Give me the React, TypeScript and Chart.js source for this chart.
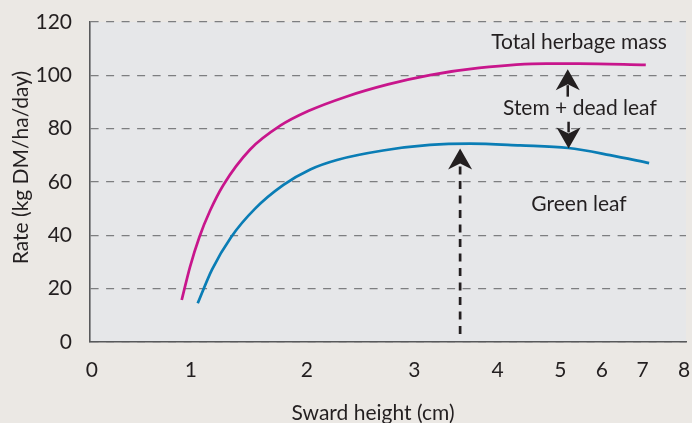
import React, { useEffect, useRef } from "react";
import { Chart, registerables } from "chart.js";

Chart.register(...registerables);

// ---- data ----
const X_TICK_LABELS = ["0", "1", "2", "3", "4", "5", "6", "7", "8"];
const Y_MIN = 0;
const Y_MAX = 120;
const Y_STEP = 20;

const TOTAL_HEIGHT = [0.909, 0.993, 1.074, 1.166, 1.281, 1.511, 1.77, 2.012, 2.365, 2.755, 3.188, 3.779, 4.775, 5.452, 7.079];
const TOTAL_RATE = [15.75, 28.2, 39.3, 49.2, 58.9, 72.2, 81.1, 86.6, 92.0, 96.6, 100.1, 102.8, 104.4, 104.4, 103.9];

const GREEN_HEIGHT = [1.06, 1.183, 1.347, 1.554, 1.798, 2.031, 2.279, 2.709, 3.188, 3.668, 4.358, 5.19, 6.197, 7.159];
const GREEN_RATE = [14.5, 27.15, 39.3, 50.0, 58.9, 64.7, 68.25, 71.8, 73.9, 74.4, 73.7, 72.75, 70.1, 67.1];

// annotation anchors (sward height, rate)
const LABEL_TOTAL = { text: "Total herbage mass", h: 5.45, r: 109.8 };
const LABEL_STEM = { text: "Stem + dead leaf", h: 5.47, r: 85.1 };
const LABEL_GREEN = { text: "Green leaf", h: 5.45, r: 49.1 };
const ARROW_UP = { h: 5.18, from: 92.0, to: 102.3 };
const ARROW_DOWN = { h: 5.2, from: 82.6, to: 72.6 };
const ARROW_PEAK = { h: 3.55, from: 3.0, to: 72.6 };

// ---- layout of the (non-uniform) x axis: fraction of axis width for each tick ----
const X_TICK_FRAC = [0.003, 0.169, 0.364, 0.544, 0.684, 0.789, 0.859, 0.927, 0.997];

function heightToAxis(h: number): number {
  const i = Math.max(0, Math.min(Math.floor(h), X_TICK_FRAC.length - 2));
  const t = h - i;
  return X_TICK_FRAC[i] + t * (X_TICK_FRAC[i + 1] - X_TICK_FRAC[i]);
}

const FONT = "Lato";
const TEXT_COLOR = "#231f20";

function arrowHead(ctx: CanvasRenderingContext2D, x: number, tipY: number, dir: number) {
  const len = 21;
  const half = 12;
  const notch = 6;
  ctx.beginPath();
  ctx.moveTo(x, tipY);
  ctx.lineTo(x + half, tipY - dir * len);
  ctx.lineTo(x, tipY - dir * (len - notch));
  ctx.lineTo(x - half, tipY - dir * len);
  ctx.closePath();
  ctx.fill();
}

const decorPlugin = {
  id: "decor",
  beforeDraw(chart: any) {
    const { ctx, chartArea } = chart;
    ctx.save();
    ctx.fillStyle = "#ebe8e4";
    ctx.fillRect(0, 0, chart.width, chart.height);
    ctx.fillStyle = "#e6e7e9";
    ctx.fillRect(chartArea.left, chartArea.top, chartArea.right - chartArea.left, chartArea.bottom - chartArea.top);
    ctx.restore();
  },
  afterDatasetsDraw(chart: any) {
    const { ctx } = chart;
    const xs = chart.scales.x;
    const ys = chart.scales.y;
    const px = (h: number) => xs.getPixelForValue(heightToAxis(h));
    const py = (r: number) => ys.getPixelForValue(r);
    ctx.save();
    ctx.fillStyle = TEXT_COLOR;
    ctx.strokeStyle = TEXT_COLOR;
    ctx.font = `21px ${FONT}`;
    ctx.textAlign = "center";
    ctx.textBaseline = "alphabetic";
    for (const l of [LABEL_TOTAL, LABEL_STEM, LABEL_GREEN]) {
      ctx.fillText(l.text, px(l.h), py(l.r));
    }

    // up arrow
    {
      const x = px(ARROW_UP.h);
      const tip = py(ARROW_UP.to);
      const tail = py(ARROW_UP.from);
      ctx.lineWidth = 2.5;
      ctx.beginPath();
      ctx.moveTo(x, tail);
      ctx.lineTo(x, tip + 16);
      ctx.stroke();
      arrowHead(ctx, x, tip, -1);
    }
    // down arrow
    {
      const x = px(ARROW_DOWN.h);
      const tip = py(ARROW_DOWN.to);
      const tail = py(ARROW_DOWN.from);
      ctx.lineWidth = 2.5;
      ctx.beginPath();
      ctx.moveTo(x, tail);
      ctx.lineTo(x, tip - 16);
      ctx.stroke();
      arrowHead(ctx, x, tip, 1);
    }
    // dashed peak arrow
    {
      const x = px(ARROW_PEAK.h);
      const tip = py(ARROW_PEAK.to);
      const tail = py(ARROW_PEAK.from);
      ctx.lineWidth = 2.7;
      ctx.setLineDash([8, 6.5]);
      ctx.beginPath();
      ctx.moveTo(x, tail);
      ctx.lineTo(x, tip + 18);
      ctx.stroke();
      ctx.setLineDash([]);
      arrowHead(ctx, x, tip, -1);
    }

    // axis titles
    ctx.fillText("Sward height (cm)", 373, 420);
    ctx.translate(27.5, 167.5);
    ctx.rotate(-Math.PI / 2);
    ctx.fillText("Rate (kg DM/ha/day)", 0, 0);
    ctx.restore();
  },
};

export default function App() {
  const canvasRef = useRef<HTMLCanvasElement | null>(null);

  useEffect(() => {
    document.body.style.margin = "0";
    const canvas = canvasRef.current;
    if (!canvas) return;

    const totalData = TOTAL_HEIGHT.map((h, i) => ({ x: heightToAxis(h), y: TOTAL_RATE[i] }));
    const greenData = GREEN_HEIGHT.map((h, i) => ({ x: heightToAxis(h), y: GREEN_RATE[i] }));

    const chart = new Chart(canvas, {
      type: "line",
      data: {
        datasets: [
          {
            label: "Total herbage mass",
            data: totalData,
            borderColor: "#c8168c",
            borderWidth: 2.7,
            pointRadius: 0,
            cubicInterpolationMode: "monotone",
            fill: false,
          },
          {
            label: "Green leaf",
            data: greenData,
            borderColor: "#0a7db5",
            borderWidth: 2.7,
            pointRadius: 0,
            cubicInterpolationMode: "monotone",
            fill: false,
          },
        ],
      },
      options: {
        responsive: false,
        animation: false,
        events: [],
        layout: { padding: { top: 22, right: 6, left: 0, bottom: 0 } },
        plugins: {
          legend: { display: false },
          tooltip: { enabled: false },
          title: { display: false },
        },
        scales: {
          x: {
            type: "linear",
            min: 0,
            max: 1,
            afterBuildTicks: (scale: any) => {
              scale.ticks = X_TICK_FRAC.map((v) => ({ value: v }));
            },
            afterFit: (scale: any) => {
              scale.height = 81;
              scale.paddingLeft = 0;
              scale.paddingRight = 0;
              scale.paddingTop = 0;
              scale.paddingBottom = 0;
            },
            grid: { display: false, drawTicks: false },
            border: { display: true, color: "#58595b", width: 1.6 },
            ticks: {
              autoSkip: false,
              maxRotation: 0,
              padding: 16,
              color: TEXT_COLOR,
              font: { family: FONT, size: 21 },
              callback: (_v: any, i: number) => X_TICK_LABELS[i],
            },
          },
          y: {
            type: "linear",
            min: Y_MIN,
            max: Y_MAX,
            afterFit: (scale: any) => {
              scale.width = 90;
              scale.paddingLeft = 0;
              scale.paddingRight = 0;
              scale.paddingTop = 0;
              scale.paddingBottom = 0;
            },
            grid: { color: "#7d7e80", lineWidth: 1.2, drawTicks: false },
            border: { display: true, color: "#58595b", width: 1.6, dash: [8, 7.5] },
            ticks: {
              stepSize: Y_STEP,
              padding: 18,
              color: TEXT_COLOR,
              font: { family: FONT, size: 21 },
            },
          },
        },
      },
      plugins: [decorPlugin],
    });

    return () => chart.destroy();
  }, []);

  return <canvas ref={canvasRef} width={692} height={423} style={{ display: "block" }} />;
}
